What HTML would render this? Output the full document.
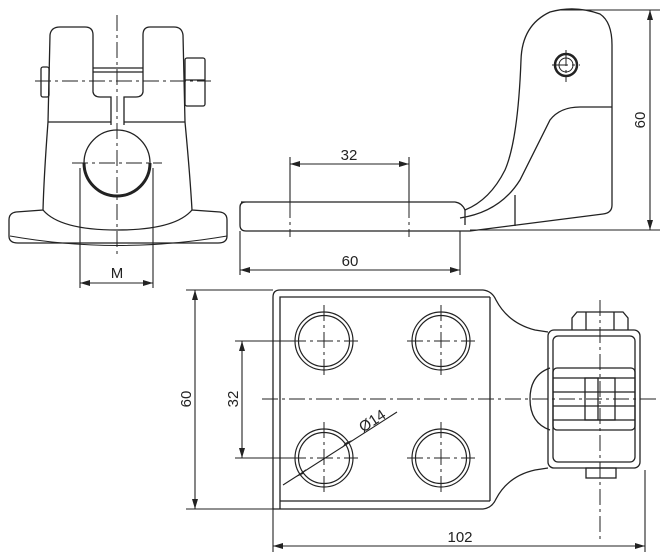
<!DOCTYPE html>
<html><head><meta charset="utf-8"><style>
html,body{margin:0;padding:0;background:#fff;}
svg{display:block;}
text{font-family:"Liberation Sans",sans-serif;font-size:15px;fill:#222;}
</style></head><body>
<svg width="666" height="560" viewBox="0 0 666 560" xmlns="http://www.w3.org/2000/svg">
<defs>
<marker id="a" viewBox="0 0 10 6" refX="10" refY="3" markerWidth="10" markerHeight="6" orient="auto-start-reverse" markerUnits="userSpaceOnUse"><path d="M0,0 L10,3 L0,6 z" fill="#222"/></marker>
</defs>
<g fill="none" stroke="#222" stroke-width="1.3">
<!-- FRONT VIEW -->
<path d="M48,122 L50,35 Q51,27 60,27 L85,27 Q93,27 93,35 L93,92 Q94,97 100,97 L111,97 L111,125"/>
<path d="M185,122 L183,35 Q182,27 174,27 L150,27 Q143,27 143,35 L143,92 Q142,97 136,97 L124,97 L124,125"/>
<line x1="93" y1="68" x2="143" y2="68"/><line x1="93" y1="72" x2="143" y2="72"/>
<line x1="48" y1="122" x2="111" y2="122"/><line x1="124" y1="122" x2="185" y2="122"/>
<path d="M48,122 Q44,175 43,210 L16,212 Q9,213 9,220 L9,236 Q9,243 18,243 L218,243 Q227,243 227,236 L227,220 Q227,213 220,212 L192,210 Q190,175 185,122"/>
<path d="M10,236 Q117,255 227,236" stroke-width="1"/>
<path d="M43,210 Q60,230 117,230 Q175,230 192,210"/>
<circle cx="117" cy="163" r="33"/>
<path d="M84,163 A33,33 0 0 0 150,163" stroke-width="3"/>
<rect x="41" y="67" width="8" height="30" rx="2"/>
<rect x="185" y="58" width="20" height="48" rx="2"/>
<line x1="185" y1="80" x2="205" y2="80"/>
<!-- SIDE VIEW -->
<path d="M241,202 L455,202 Q462,203 465,210 Q490,200 505,170 Q518,140 521,60 Q522,25 550,12 Q575,5 600,14 Q612,22 612,45 L612,205 Q612,213 603,214 L470,231 L246,231 Q240,231 240,225 L240,207 Q240,202 246,202"/>
<path d="M465,210 L465,225"/>
<path d="M460,218 Q500,212 520,180 Q540,140 550,120 Q560,107 580,107 L612,107"/>
<line x1="515" y1="195" x2="515" y2="226"/>
<circle cx="566" cy="65" r="11" stroke-width="2.5"/>
<circle cx="566" cy="65" r="7" stroke-width="1"/>
<!-- PLAN VIEW -->
<path d="M273,509 L273,297 Q273,290 280,290 L483,290 Q492,291 496,300 Q508,323 535,330 L548,332"/>
<path d="M280,509 L280,297 L490,297"/>
<path d="M273,509 L483,509 Q492,508 496,499 Q508,476 535,470 L548,468"/>
<path d="M280,501 L490,501"/>
<path d="M490,297 L490,501"/>
<rect x="548" y="330" width="92" height="138" rx="6"/>
<rect x="553" y="336" width="82" height="126" rx="5"/>
<path d="M572,330 L572,318 L577,312 L623,312 L628,318 L628,330"/>
<line x1="586" y1="312" x2="586" y2="330"/><line x1="614" y1="312" x2="614" y2="330"/>
<rect x="586" y="468" width="30" height="10"/>
<path d="M550,368 Q530,375 530,399 Q530,423 550,430"/>
<rect x="553" y="368" width="82" height="62" rx="4"/>
<line x1="553" y1="378" x2="635" y2="378"/><line x1="553" y1="420" x2="635" y2="420"/>
<line x1="553" y1="392" x2="635" y2="392"/><line x1="553" y1="406" x2="635" y2="406"/>
<rect x="585" y="378" width="30" height="42"/>
<line x1="598" y1="378" x2="598" y2="420"/>
<g stroke-width="1.2">
<circle cx="324" cy="341" r="29"/><circle cx="324" cy="341" r="25.5"/>
<circle cx="441" cy="341" r="29"/><circle cx="441" cy="341" r="25.5"/>
<circle cx="324" cy="458" r="29"/><circle cx="324" cy="458" r="25.5"/>
<circle cx="441" cy="458" r="29"/><circle cx="441" cy="458" r="25.5"/>
</g>
</g>
<!-- centerlines -->
<g fill="none" stroke="#222" stroke-width="1" stroke-dasharray="16,4,3,4">
<line x1="117" y1="15" x2="117" y2="258"/>
<line x1="35" y1="81" x2="211" y2="81"/>
<line x1="72" y1="163" x2="162" y2="163"/>
<line x1="552" y1="65" x2="580" y2="65"/><line x1="566" y1="50" x2="566" y2="82"/>
<line x1="262" y1="399" x2="660" y2="399"/>
<line x1="600" y1="300" x2="600" y2="540"/>
<line x1="290" y1="341" x2="358" y2="341"/><line x1="324" y1="305" x2="324" y2="377"/>
<line x1="407" y1="341" x2="475" y2="341"/><line x1="441" y1="305" x2="441" y2="377"/>
<line x1="290" y1="458" x2="358" y2="458"/><line x1="324" y1="422" x2="324" y2="494"/>
<line x1="407" y1="458" x2="475" y2="458"/><line x1="441" y1="422" x2="441" y2="494"/>
<line x1="290" y1="175" x2="290" y2="237"/><line x1="409" y1="175" x2="409" y2="237"/>
</g>
<!-- dimensions -->
<g fill="none" stroke="#222" stroke-width="1.1">
<line x1="80" y1="168" x2="80" y2="288"/><line x1="153" y1="168" x2="153" y2="288"/>
<line x1="80" y1="283" x2="153" y2="283" marker-start="url(#a)" marker-end="url(#a)"/>
<line x1="290" y1="157" x2="290" y2="202"/><line x1="409" y1="157" x2="409" y2="202"/>
<line x1="290" y1="164" x2="409" y2="164" marker-start="url(#a)" marker-end="url(#a)"/>
<line x1="240" y1="231" x2="240" y2="275"/><line x1="460" y1="231" x2="460" y2="275"/>
<line x1="240" y1="270" x2="460" y2="270" marker-start="url(#a)" marker-end="url(#a)"/>
<line x1="560" y1="10" x2="660" y2="10"/><line x1="470" y1="230" x2="660" y2="230"/>
<line x1="650" y1="10" x2="650" y2="230" marker-start="url(#a)" marker-end="url(#a)"/>
<line x1="186" y1="290" x2="273" y2="290"/><line x1="186" y1="509" x2="273" y2="509"/>
<line x1="195" y1="290" x2="195" y2="509" marker-start="url(#a)" marker-end="url(#a)"/>
<line x1="235" y1="341" x2="290" y2="341"/><line x1="235" y1="458" x2="290" y2="458"/>
<line x1="242" y1="341" x2="242" y2="458" marker-start="url(#a)" marker-end="url(#a)"/>
<line x1="273" y1="509" x2="273" y2="552"/><line x1="645" y1="470" x2="645" y2="552"/>
<line x1="273" y1="546" x2="645" y2="546" marker-start="url(#a)" marker-end="url(#a)"/>
<line x1="283" y1="485" x2="397" y2="412"/>
</g>
<g fill="#222"><path d="M296,477 L306,469 L303,474 z"/><path d="M352,440 L342,448 L345,443 z"/></g>
<text x="117" y="278" text-anchor="middle">M</text>
<text x="349" y="160" text-anchor="middle">32</text>
<text x="350" y="266" text-anchor="middle">60</text>
<text x="460" y="542" text-anchor="middle">102</text>
<text transform="translate(645,120) rotate(-90)" text-anchor="middle">60</text>
<text transform="translate(191,399) rotate(-90)" text-anchor="middle">60</text>
<text transform="translate(238,399) rotate(-90)" text-anchor="middle">32</text>
<text transform="translate(375,425) rotate(-33)" text-anchor="middle">Ø14</text>
</svg>
</body></html>
